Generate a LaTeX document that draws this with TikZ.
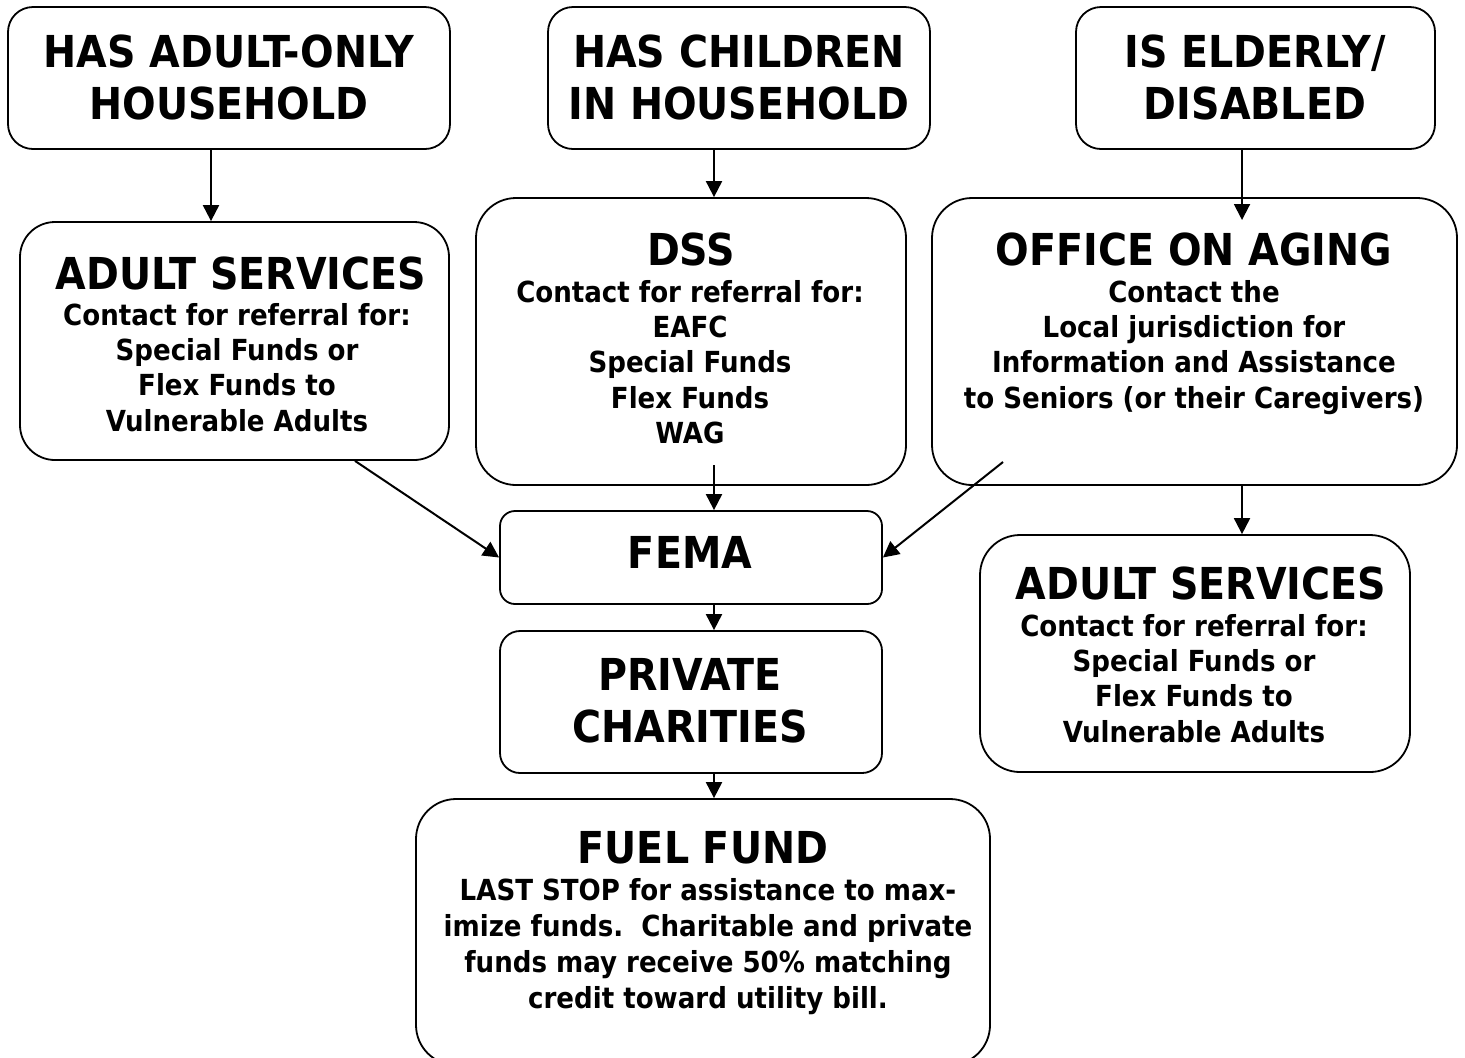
\documentclass[tikz,border=0pt]{standalone}
\usepackage{fontspec}
\setmainfont{DejaVu Sans Condensed}[BoldFont={DejaVu Sans Condensed Bold}]
\usetikzlibrary{arrows.meta,fit}
\begin{document}
\begin{tikzpicture}[x=0.5pt,y=-0.5pt,
  box/.style={draw, line width=0.9pt, inner sep=0pt, rounded corners=#1},
  box/.default=12pt,
  arr/.style={line width=1pt, -{Triangle[length=8pt,width=8pt]}},
  hd/.style={font=\bfseries\fontsize{22pt}{26pt}\selectfont, align=center, inner sep=0pt, anchor=north},
  bd/.style={font=\bfseries\fontsize{14.5pt}{17.6pt}\selectfont, align=center, inner sep=0pt, anchor=north}]
\useasboundingbox (0,0) rectangle (1465,1057);
\clip (0,0) rectangle (1465,1057);
% boxes
\node[box=12.5pt, fit={(8,7) (450,149)}] (a1) {};
\node[box=12.5pt, fit={(548,7) (930,149)}] (a2) {};
\node[box=12.5pt, fit={(1076,7) (1435,149)}] (a3) {};
\node[box=17.5pt, fit={(20,222) (449,460)}] (b1) {};
\node[box=20pt, fit={(476,198) (906,485)}] (b2) {};
\node[box=20pt, fit={(932,198) (1457,485)}] (b3) {};
\node[box=7.5pt, fit={(500,511) (882,604)}] (fema) {};
\node[box=10pt, fit={(500,631) (882,773)}] (priv) {};
\node[box=20pt, fit={(980,535) (1410,772)}] (as2) {};
\node[box=20pt, fit={(416,799) (990,1065)}] (fuel) {};
% texts
\node[hd] (a1t) at (229,34) {HAS ADULT-ONLY\\HOUSEHOLD};
\node[hd] (a2t) at (739,34) {HAS CHILDREN\\IN HOUSEHOLD};
\node[hd] (a3t) at (1255,34) {IS ELDERLY/\\DISABLED};
\node[hd] (b1h) at (241,256) {ADULT SERVICES};
\node[bd] (b1b) at (237,303) {Contact for referral for:\\Special Funds or\\Flex Funds to\\Vulnerable Adults};
\node[hd] (b2h) at (691,232) {DSS};
\node[bd] (b2b) at (690,280) {Contact for referral for:\\EAFC\\Special Funds\\Flex Funds\\WAG};
\node[hd] (b3h) at (1194,232) {OFFICE ON AGING};
\node[bd] (b3b) at (1194,280) {Contact the\\Local jurisdiction for\\Information and Assistance\\to Seniors (or their Caregivers)};
\node[hd] (femat) at (690,536.5) {FEMA};
\node[hd] (privt) at (690,658.5) {PRIVATE\\CHARITIES};
\node[hd] (as2h) at (1201,566.5) {ADULT SERVICES};
\node[bd] (as2b) at (1194,614) {Contact for referral for:\\Special Funds or\\Flex Funds to\\Vulnerable Adults};
\node[hd] (fuelh) at (703,831.5) {FUEL FUND};
\node[bd, font=\bfseries\fontsize{14.5pt}{18pt}\selectfont] (fuelb) at (708,878) {LAST STOP for assistance to max-\\imize funds.\ \ Charitable and private\\funds may receive 50\% matching\\credit toward utility bill.};
% connectors
\coordinate (b3in) at (1242,220);
\coordinate (b2out) at (714,465);
\coordinate (b3out) at (1003,462);
\draw[arr] (211,0 |- a1.south) -- (211,0 |- b1.north);
\draw[arr] (714,0 |- a2.south) -- (714,0 |- b2.north);
\draw[arr] (1242,0 |- a3.south) -- (b3in);
\draw[arr] (355,0 |- b1.south) -- (fema.west);
\draw[arr] (b2out) -- (714,0 |- fema.north);
\draw[arr] (b3out) -- (fema.east);
\draw[arr] (1242,0 |- b3.south) -- (1242,0 |- as2.north);
\draw[arr] (714,0 |- fema.south) -- (714,0 |- priv.north);
\draw[arr] (714,0 |- priv.south) -- (714,0 |- fuel.north);
\end{tikzpicture}
\end{document}
